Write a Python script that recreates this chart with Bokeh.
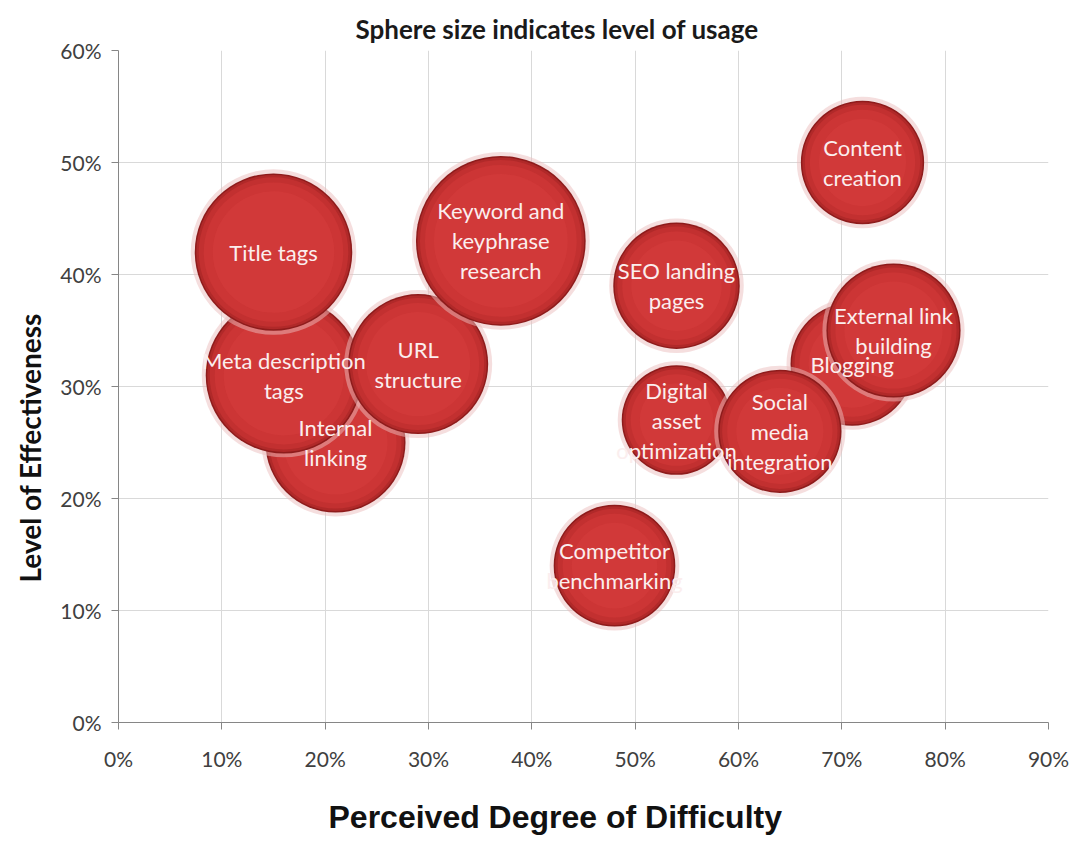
import math
from bokeh.plotting import figure
from bokeh.models import ColumnDataSource, CDSView, IndexFilter, FixedTicker, NumeralTickFormatter, Title
from bokeh.core.properties import value
from bokeh.embed import file_html
from bokeh.resources import INLINE

# ---- data (in drawing order) ----
labels = ["Internal\nlinking", "Meta description\ntags", "Title tags", "URL\nstructure",
          "Keyword and\nkeyphrase\nresearch", "Competitor\nbenchmarking", "Digital\nasset\noptimization",
          "SEO landing\npages", "Blogging", "Social\nmedia\nintegration", "External link\nbuilding",
          "Content\ncreation"]
difficulty = [0.21, 0.16, 0.15, 0.29, 0.37, 0.48, 0.54, 0.54, 0.71, 0.64, 0.75, 0.72]
effectiveness = [0.25, 0.31, 0.42, 0.32, 0.43, 0.14, 0.27, 0.39, 0.32, 0.26, 0.35, 0.50]
usage = [49, 61, 62, 49, 72, 37, 30, 40, 38, 38, 45, 38]

x_ticks = [0, 0.1, 0.2, 0.3, 0.4, 0.5, 0.6, 0.7, 0.8, 0.9]
y_ticks = [0, 0.1, 0.2, 0.3, 0.4, 0.5, 0.6]

title_text = "Sphere size indicates level of usage"
x_title = "Perceived Degree of Difficulty"
y_title = "Level of Effectiveness"

# ---- figure ----
p = figure(frame_width=930, frame_height=672, x_range=(0, 0.9), y_range=(0, 0.6),
           output_backend="svg", toolbar_location=None,
           min_border_left=118, min_border_right=27, min_border_top=50, min_border_bottom=118)
p.outline_line_color = None
p.background_fill_color = "white"

for ax, ticks, standoff in ((p.xaxis[0], x_ticks, 16), (p.yaxis[0], y_ticks, 10)):
    ax.ticker = FixedTicker(ticks=ticks)
    ax.formatter = NumeralTickFormatter(format="0%")
    ax.axis_line_color = "#868686"
    ax.major_tick_line_color = "#868686"
    ax.major_tick_out = 7
    ax.major_tick_in = 0
    ax.minor_tick_line_color = None
    ax.major_label_text_font = "Lato"
    ax.major_label_text_font_size = "21px"
    ax.major_label_text_color = "#404040"
    ax.major_label_standoff = standoff

p.xgrid.ticker = FixedTicker(ticks=x_ticks)
p.ygrid.ticker = FixedTicker(ticks=y_ticks)
p.grid.grid_line_color = "#d9d9d9"
p.grid.grid_line_width = 1

# ---- bubbles ----
radius_px = [10 * math.sqrt(u) for u in usage]
src = ColumnDataSource(dict(x=difficulty, y=effectiveness, r=radius_px))

layers = [  # (radius delta, color, alpha)
    (4, "#ecbdbd", 0.5),
    (0, "#8e1c1c", 1.0),
    (-1.5, "#b02929", 1.0),
    (-4, "#c23030", 1.0),
    (-9, "#cc3535", 1.0),
    (-18, "#d23a3a", 0.9),
]
for i in range(len(labels)):
    view = CDSView(filter=IndexFilter([i]))
    r = radius_px[i]
    for d, col, a in layers:
        p.scatter(x="x", y="y", source=src, view=view, marker="circle",
                  size=2 * (r + d), fill_color=col, fill_alpha=a, line_color=None)

# ---- bubble labels (one row per line) ----
lx, ly, lt, lo = [], [], [], []
line_h = 30
for xv, yv, lab in zip(difficulty, effectiveness, labels):
    parts = lab.split("\n")
    n = len(parts)
    for k, part in enumerate(parts):
        lx.append(xv)
        ly.append(yv)
        lt.append(part)
        lo.append((k - (n - 1) / 2) * line_h)
lsrc = ColumnDataSource(dict(x=lx, y=ly, text=lt, off=lo))
p.text(x="x", y="y", text="text", y_offset="off", source=lsrc,
       text_font=value("Lato"), text_font_size="22px", text_color="#fbeeee",
       text_align="center", text_baseline="middle")

# ---- titles ----
p.add_layout(Title(text=title_text, align="left", offset=237, standoff=12, text_font="Lato",
                   text_font_style="bold", text_font_size="26px", text_color="#1a1a1a"), "above")
p.add_layout(Title(text=y_title, align="left", offset=140, standoff=21, text_font="Lato",
                   text_font_style="bold", text_font_size="28px", text_color="#111111"), "left")
p.add_layout(Title(text=x_title, align="left", offset=210, standoff=47, text_font="Liberation Sans",
                   text_font_style="bold", text_font_size="32px", text_color="#111111"), "below")

open("out.html", "w").write(file_html(p, INLINE))
